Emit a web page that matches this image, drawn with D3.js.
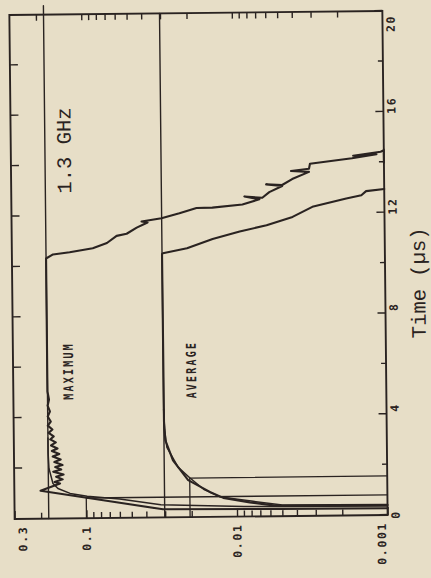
<!DOCTYPE html>
<html><head><meta charset="utf-8">
<script src="https://cdn.jsdelivr.net/npm/d3@7"></script>
<style>
html,body{margin:0;padding:0;background:#e7dec7;}
svg{display:block;}
</style></head><body>
<svg id="chart" width="431" height="578"></svg>
<script>
// ---------- data (time in µs, value on log scale) ----------
const timeTicksMajor = [0, 4, 8, 12, 16, 20];
const timeTickLabels = ["0", "4", "8", "12", "16", "20"];
const timeTicksMinor = [2, 6, 10, 14, 18];
const timeTicksTop = [2, 4, 6, 8, 10, 12, 14, 16, 18];
const valueTicksMajor = [0.3, 0.1, 0.01, 0.001];
const valueTickLabels = ["0.3", "0.1", "0.01", "0.001"];
const valueTicksMinor = [0.2, 0.09, 0.08, 0.07, 0.06, 0.05, 0.04, 0.03, 0.02,
                         0.009, 0.008, 0.007, 0.006, 0.005, 0.004, 0.003, 0.002];

const refMaximum = [[0, 0.178], [20.35, 0.178]];
const refAverage = [[0, 0.0302], [20, 0.0302]];
const pulseShort = [[0, 0.1], [0.8, 0.1], [0.8, 0.001]];
const pulseLong  = [[0, 0.0205], [1.55, 0.0205], [1.55, 0.001]];

const maximumMeasured = [
  [0.27,0.001],[0.29,0.0052],[0.32,0.031],[0.6,0.060],[1.11,0.201],[1.39,0.149],
  [1.45,0.162],[1.55,0.143],[1.66,0.158],[1.74,0.141],[1.86,0.165],[1.94,0.146],
  [2.04,0.160],[2.12,0.143],[2.24,0.162],[2.34,0.147],[2.46,0.166],[2.56,0.150],
  [2.68,0.168],[2.78,0.154],[2.90,0.170],[3.02,0.158],[3.14,0.172],[3.26,0.163],
  [3.40,0.176],[3.53,0.166],[3.69,0.178],[3.85,0.170],[4.05,0.178],[4.25,0.172],
  [4.48,0.178],[4.72,0.174],[5.04,0.178],[10.32,0.178],[10.48,0.160],[10.56,0.124],
  [10.71,0.087],[10.91,0.070],[11.19,0.0603],[11.27,0.0517],[11.51,0.0443],
  [11.71,0.0375],[11.75,0.0411],[11.87,0.0303],[12.06,0.0230],[12.26,0.0177],
  [12.27,0.0139],[12.38,0.00877],[12.58,0.00676],[12.70,0.0085],[12.64,0.00646],
  [12.86,0.0058],[13.10,0.00476],[13.17,0.00608],[13.14,0.00476],[13.37,0.00408],
  [13.65,0.00315],[13.69,0.00415],[13.77,0.00315],[13.97,0.0031],[14.17,0.00163],
  [14.32,0.00112],[14.27,0.0016],[14.42,0.00105],[14.48,0.001],[13.98,0.001],[14.5,0.001]
];
const maximumSmooth = [
  [0.36,0.001],[0.4,0.009],[0.5,0.032],[0.75,0.060],[0.87,0.0986],[0.99,0.128],
  [1.19,0.154],[1.39,0.166],[1.98,0.176],[2.6,0.178],[3.2,0.178]
];
const averageMeasured = [
  [0.4,0.001],[0.41,0.0054],[0.56,0.0082],[0.75,0.0123],[0.99,0.0151],[1.47,0.0210],
  [2.26,0.0264],[3.06,0.0296],[3.8,0.0301],[10.45,0.0302],[10.48,0.0298],[10.67,0.0206],
  [11.03,0.0139],[11.31,0.00918],[11.55,0.00608],[11.87,0.00408],[12.26,0.00301],
  [12.58,0.00179],[12.70,0.00142],[12.86,0.00132],[12.94,0.001]
];
const averageSmooth = [
  [0.42,0.001],[0.44,0.005],[0.6,0.0078],[0.79,0.0129],[1.1,0.0166],[1.55,0.0204],
  [1.98,0.0244],[2.78,0.0289],[3.5,0.0299],[4.3,0.0302]
];

// ---------- layout ----------
const ink = "#2a2321";
const W = 504, H = 373;           // plot size in the un-rotated frame (time x value)
const svg = d3.select("#chart");
svg.append("rect").attr("width", 431).attr("height", 578).attr("fill", "#e7dec7");

const g = svg.append("g")
  .attr("transform", "rotate(-0.6,198,265) translate(12,517) rotate(-90)");

const xT = d3.scaleLinear().domain([0, 20]).range([0, W]);
const yV = d3.scaleLog().domain([0.001, 0.3]).range([H, 0]);

// frame
g.append("rect").attr("x", 0).attr("y", 0).attr("width", W).attr("height", H)
  .attr("fill", "none").attr("stroke", ink).attr("stroke-width", 1.9);

const tickFont = s => s.attr("font-family", "'DejaVu Sans Mono', monospace")
  .attr("font-weight", "bold").attr("font-size", 11.5).attr("letter-spacing", "1.6px")
  .attr("fill", ink);

function styleAxis(sel) {
  sel.select(".domain").remove();
  sel.selectAll(".tick line").attr("stroke", ink).attr("stroke-width", 1.4);
}

// time axis (appears on right of the rotated chart)
const tAxisMajor = g.append("g").attr("transform", `translate(0,${H})`)
  .call(d3.axisBottom(xT).tickValues(timeTicksMajor)
    .tickFormat((d, i) => timeTickLabels[i]).tickSize(-8).tickPadding(4));
styleAxis(tAxisMajor);
tAxisMajor.selectAll("text").call(tickFont)
  .attr("dx", d => d === 0 ? 0 : Math.min(6, W - 13 - xT(d)));
const tAxisMinor = g.append("g").attr("transform", `translate(0,${H})`)
  .call(d3.axisBottom(xT).tickValues(timeTicksMinor).tickFormat("").tickSize(-5));
styleAxis(tAxisMinor);
const tAxisTop = g.append("g")
  .call(d3.axisTop(xT).tickValues(timeTicksTop).tickFormat("").tickSize(-8));
styleAxis(tAxisTop);

// value axis (appears at bottom of the rotated chart)
const vAxisMajor = g.append("g")
  .call(d3.axisLeft(yV).tickValues(valueTicksMajor)
    .tickFormat((d, i) => valueTickLabels[i]).tickSize(-8).tickPadding(7));
styleAxis(vAxisMajor);
vAxisMajor.selectAll("text").call(tickFont)
  .attr("y", d => Math.min(Math.max(yV(d), 8), H - 6) - yV(d));
const vAxisMinor = g.append("g")
  .call(d3.axisLeft(yV).tickValues(valueTicksMinor).tickFormat("").tickSize(-6));
styleAxis(vAxisMinor);
const vAxisRight = g.append("g").attr("transform", `translate(${W},0)`)
  .call(d3.axisRight(yV).tickValues(valueTicksMinor.concat([0.1, 0.01])).tickFormat("").tickSize(-6));
styleAxis(vAxisRight);

// lines
const line = d3.line().x(d => xT(d[0])).y(d => yV(Math.max(d[1], 0.001)));
function draw(data, w) {
  g.append("path").datum(data).attr("d", line).attr("fill", "none")
    .attr("stroke", ink).attr("stroke-width", w)
    .attr("stroke-linejoin", "round").attr("stroke-linecap", "round");
}
draw(refMaximum, 1.4);
draw(refAverage, 1.4);
draw(pulseShort, 1.3);
draw(pulseLong, 1.3);
draw(maximumSmooth, 1.5);
draw(averageSmooth, 1.5);
draw(averageMeasured, 2.1);
draw(maximumMeasured, 2.1);

// annotations
g.append("text").attr("x", xT(14.6)).attr("y", yV(0.12))
  .attr("text-anchor", "middle").attr("font-family", "'Liberation Mono', monospace")
  .attr("font-size", 20.5).attr("fill", ink).text("1.3 GHz");
function smallLabel(t, v, txt) {
  g.append("text")
    .attr("transform", `translate(${xT(t)},${yV(v)}) scale(1,1.35)`)
    .attr("text-anchor", "middle").attr("font-family", "'DejaVu Sans Mono', monospace")
    .attr("font-weight", "bold")
    .attr("font-size", 10).attr("letter-spacing", "2.2px").attr("fill", ink).text(txt);
}
smallLabel(5.85, 0.12, "MAXIMUM");
smallLabel(5.85, 0.0183, "AVERAGE");
g.append("text").attr("x", xT(9.2)).attr("y", H + 40)
  .attr("text-anchor", "middle").attr("font-family", "'Liberation Mono', monospace")
  .attr("font-size", 20.5).attr("fill", ink).text("Time (µs)");
</script>
</body></html>
